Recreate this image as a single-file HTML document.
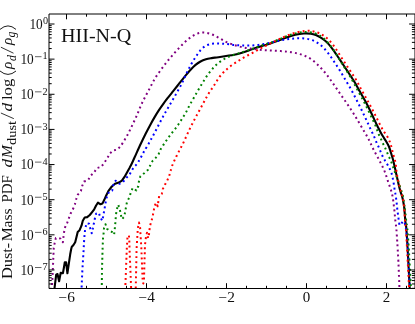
<!DOCTYPE html>
<html><head><meta charset="utf-8"><title>plot</title>
<style>html,body{margin:0;padding:0;background:#fff;}body{width:415px;height:324px;overflow:hidden;position:relative;font-family:"Liberation Serif",serif;}</style>
</head><body>
<svg width="415" height="324" viewBox="0 0 415 324" style="position:absolute;left:0;top:0;will-change:transform">
<defs><clipPath id="c"><rect x="49.00" y="14.00" width="367.00" height="274.50"/></clipPath></defs>
<rect width="415" height="324" fill="#fff"/>
<g clip-path="url(#c)" fill="none" stroke-linejoin="round">
<path d="M54.30 290.00L56.20 274.60L57.50 274.00L59.10 281.20L60.70 272.70L62.90 273.30L63.80 268.30L64.80 262.20L66.10 262.20L67.40 273.30L68.90 263.20L70.20 254.30L71.20 249.00L71.80 246.80L73.30 245.30L75.20 242.20L76.50 237.10L77.70 232.00L79.60 230.20L81.50 225.70L82.80 220.70L84.70 217.50L87.20 217.10L89.80 215.00L92.30 211.80L94.20 209.30L96.10 205.50L98.00 202.60L100.50 204.30L102.40 203.60L104.30 199.80L106.20 195.40L108.70 190.60L111.80 186.50L115.00 183.80L118.80 182.60L121.90 180.70L124.50 176.90L127.00 172.40L129.50 168.00C129.87 167.28 130.55 166.15 131.70 163.70C132.85 161.25 134.85 156.73 136.40 153.32C137.95 149.92 139.51 146.50 141.03 143.28C142.54 140.05 144.01 136.98 145.50 134.00C146.99 131.02 148.48 128.17 149.97 125.40C151.47 122.63 152.98 119.91 154.48 117.38C155.97 114.84 157.42 112.47 158.93 110.17C160.43 107.88 161.95 105.74 163.50 103.60C165.05 101.46 166.65 99.39 168.22 97.35C169.80 95.31 171.44 93.30 172.98 91.38C174.51 89.45 176.00 87.60 177.45 85.78C178.90 83.95 180.21 82.23 181.65 80.42C183.09 78.62 184.57 76.75 186.10 74.92C187.63 73.10 189.25 71.17 190.83 69.50C192.40 67.83 193.96 66.22 195.57 64.88C197.19 63.53 198.80 62.39 200.53 61.46C202.25 60.53 204.08 59.84 205.93 59.28C207.77 58.73 209.79 58.43 211.57 58.12C213.36 57.81 214.96 57.67 216.62 57.44C218.29 57.20 219.73 56.96 221.55 56.69C223.37 56.41 225.45 56.11 227.55 55.77C229.65 55.44 231.87 55.13 234.15 54.66C236.42 54.18 238.77 53.62 241.20 52.93C243.63 52.23 246.21 51.36 248.72 50.51C251.24 49.66 253.82 48.66 256.27 47.83C258.73 47.00 261.13 46.25 263.48 45.53C265.82 44.81 267.94 44.30 270.35 43.52C272.76 42.74 275.24 41.83 277.93 40.84C280.61 39.84 283.58 38.55 286.48 37.54C289.38 36.52 292.43 35.44 295.32 34.76C298.22 34.07 301.29 33.61 303.88 33.43C306.46 33.25 308.85 33.40 310.85 33.67C312.85 33.94 314.26 34.42 315.85 35.04C317.44 35.65 318.88 36.46 320.38 37.38C321.88 38.29 323.44 39.36 324.85 40.52C326.26 41.69 327.53 42.93 328.83 44.35C330.12 45.77 331.34 47.36 332.60 49.05C333.86 50.74 335.12 52.63 336.38 54.48C337.63 56.32 338.87 58.24 340.12 60.12C341.38 62.01 342.64 63.89 343.90 65.78C345.16 67.66 346.42 69.53 347.67 71.43C348.93 73.33 350.26 75.36 351.43 77.17C352.59 78.99 353.73 80.76 354.67 82.32C355.62 83.89 356.28 85.09 357.10 86.55C357.92 88.01 358.66 89.45 359.57 91.07C360.49 92.70 361.56 94.49 362.57 96.27C363.59 98.06 364.67 99.93 365.68 101.80C366.68 103.67 367.68 105.60 368.62 107.50C369.57 109.40 370.46 111.26 371.38 113.20C372.29 115.14 373.17 117.08 374.12 119.12C375.08 121.17 376.20 123.67 377.10 125.50C378.00 127.33 378.58 128.38 379.50 130.10C380.42 131.82 381.55 134.02 382.60 135.80C383.65 137.58 384.75 139.02 385.80 140.80C386.85 142.58 388.07 144.60 388.90 146.50C389.73 148.40 390.17 150.20 390.80 152.20C391.43 154.20 392.17 156.58 392.70 158.50C393.23 160.42 393.57 161.88 394.00 163.70C394.43 165.52 394.88 167.50 395.30 169.40C395.72 171.30 396.08 173.20 396.50 175.10C396.92 177.00 397.37 178.90 397.80 180.80C398.23 182.70 398.62 184.60 399.10 186.50C399.58 188.40 400.13 190.30 400.70 192.20C401.27 194.10 401.93 195.52 402.50 197.90C403.07 200.28 403.72 203.80 404.10 206.50C404.48 209.20 404.58 211.58 404.80 214.10C405.02 216.62 405.15 219.28 405.40 221.60C405.65 223.92 405.99 224.60 406.30 228.00C406.61 231.40 406.92 236.45 407.25 242.00C407.58 247.55 407.88 253.30 408.30 261.30C408.73 269.30 409.55 285.22 409.80 290.00" stroke="#000" stroke-width="2.10"/>
<path d="M51.80 290.00L52.40 278.40L53.10 263.20L53.70 248.30L54.60 243.40L55.80 238.10L58.80 238.10L60.70 238.60L62.90 242.20L63.40 237.40L64.10 232.00L65.10 227.20L67.20 222.90L68.90 218.10L70.50 213.70L73.00 209.10L74.90 204.30L76.20 199.20L77.70 194.80L80.90 191.00L82.20 185.90L84.10 181.50L88.10 180.20L90.60 175.80L94.20 172.40L96.80 168.10L101.40 166.80L104.20 162.80L107.10 158.70L109.50 153.90L112.80 150.60L117.50 149.50L120.90 145.80C121.35 145.10 122.73 143.02 123.60 141.60C124.47 140.18 125.27 138.75 126.10 137.30C126.93 135.85 127.79 134.40 128.57 132.90C129.36 131.40 130.06 129.85 130.80 128.30C131.54 126.75 132.28 125.17 133.03 123.60C133.77 122.03 134.56 120.43 135.28 118.88C135.99 117.32 136.65 115.79 137.30 114.28C137.95 112.76 138.52 111.31 139.15 109.78C139.78 108.24 140.40 106.64 141.10 105.08C141.80 103.51 142.57 101.91 143.33 100.40C144.08 98.89 144.85 97.46 145.62 96.00C146.40 94.54 147.17 93.12 147.95 91.65C148.73 90.18 149.52 88.68 150.30 87.18C151.08 85.67 151.82 84.12 152.62 82.62C153.43 81.13 154.25 79.65 155.15 78.20C156.05 76.75 157.02 75.35 158.00 73.92C158.98 72.50 160.04 71.07 161.05 69.67C162.06 68.28 163.06 66.90 164.05 65.58C165.04 64.25 165.98 62.99 167.00 61.73C168.02 60.46 169.08 59.23 170.15 57.97C171.22 56.72 172.35 55.46 173.45 54.20C174.55 52.94 175.63 51.66 176.75 50.42C177.87 49.19 178.98 47.97 180.15 46.78C181.32 45.58 182.53 44.40 183.75 43.25C184.97 42.10 186.20 40.93 187.48 39.85C188.75 38.77 190.01 37.68 191.38 36.75C192.74 35.82 194.19 34.91 195.68 34.25C197.16 33.59 198.73 33.06 200.30 32.80C201.87 32.54 203.48 32.51 205.10 32.67C206.72 32.83 208.38 33.26 210.00 33.76C211.62 34.27 213.22 34.97 214.80 35.70C216.38 36.43 217.93 37.29 219.50 38.14C221.07 38.99 222.65 39.98 224.22 40.81C225.80 41.64 227.36 42.44 228.98 43.13C230.59 43.81 232.20 44.36 233.93 44.93C235.65 45.49 237.48 46.06 239.32 46.53C241.17 47.00 243.09 47.40 244.97 47.73C246.86 48.07 248.74 48.29 250.62 48.55C252.51 48.82 254.39 49.09 256.27 49.32C258.16 49.54 260.07 49.76 261.92 49.92C263.78 50.09 265.63 50.19 267.40 50.31C269.17 50.43 270.85 50.53 272.55 50.63C274.25 50.73 275.91 50.82 277.60 50.91C279.29 51.01 280.99 51.08 282.68 51.21C284.36 51.35 286.04 51.51 287.72 51.73C289.41 51.94 291.10 52.18 292.77 52.48C294.45 52.77 296.13 53.10 297.78 53.52C299.42 53.95 301.05 54.43 302.62 55.00C304.20 55.57 305.74 56.19 307.20 56.92C308.66 57.66 310.05 58.46 311.40 59.40C312.75 60.34 314.01 61.44 315.27 62.55C316.54 63.66 317.76 64.88 318.98 66.08C320.19 67.27 321.40 68.47 322.55 69.72C323.70 70.98 324.80 72.30 325.85 73.60C326.90 74.90 327.85 76.21 328.82 77.53C329.80 78.84 330.72 80.13 331.68 81.47C332.63 82.82 333.58 84.20 334.55 85.60C335.52 87.00 336.50 88.43 337.48 89.85C338.45 91.27 339.43 92.72 340.40 94.12C341.37 95.53 342.32 96.89 343.27 98.25C344.22 99.61 345.16 100.93 346.10 102.30C347.04 103.67 347.98 105.07 348.93 106.47C349.87 107.88 350.84 109.31 351.77 110.75C352.71 112.19 353.63 113.65 354.52 115.10C355.42 116.55 356.19 117.82 357.15 119.43C358.11 121.03 359.15 122.79 360.30 124.75C361.45 126.71 362.90 129.21 364.05 131.20C365.20 133.19 366.31 135.02 367.23 136.68C368.14 138.33 368.81 139.65 369.55 141.15C370.29 142.65 370.93 144.16 371.65 145.68C372.37 147.19 373.10 148.72 373.88 150.23C374.65 151.73 375.48 153.19 376.30 154.70C377.12 156.21 378.02 157.80 378.80 159.30C379.58 160.80 380.25 162.23 381.00 163.70C381.75 165.17 382.60 166.57 383.30 168.10C384.00 169.63 384.62 171.32 385.20 172.90C385.78 174.48 386.28 176.03 386.80 177.60C387.32 179.17 387.77 180.72 388.30 182.30C388.83 183.88 389.47 185.50 390.00 187.10C390.53 188.70 391.05 190.25 391.50 191.90C391.95 193.55 392.38 195.32 392.70 197.00C393.02 198.68 393.18 200.32 393.40 202.00C393.62 203.68 393.80 205.40 394.00 207.10C394.20 208.80 394.43 210.55 394.60 212.20C394.77 213.85 394.85 215.37 395.00 217.00C395.15 218.63 395.30 220.32 395.50 222.00C395.70 223.68 396.02 225.43 396.20 227.10C396.38 228.77 396.43 229.52 396.60 232.00C396.78 234.48 396.95 237.02 397.25 242.00C397.55 246.98 398.02 253.90 398.40 261.90C398.77 269.90 399.32 285.32 399.50 290.00" stroke="#800080" stroke-width="2.00" stroke-dasharray="1.9 3.15"/>
<path d="M81.50 290.00L82.20 273.30L83.70 248.50L83.90 243.40L84.30 238.40L84.70 233.30L85.30 228.30L86.60 223.20L89.10 223.80L90.40 228.90L91.70 233.30L92.90 228.30L93.80 223.80L94.80 218.80L96.10 213.70L98.80 212.80L100.40 217.50L102.30 220.70L103.30 215.80L104.20 210.50L105.10 205.60L105.90 200.90L107.10 195.80L109.30 191.40L112.20 190.50L113.10 185.70L115.60 180.70L119.40 183.80L122.80 182.20L126.10 178.10L129.50 174.60L132.10 169.90L134.50 166.50L137.30 163.70L139.80 159.30L142.40 154.60L144.80 149.90C145.28 149.15 146.82 146.87 147.70 145.40C148.58 143.93 149.29 142.51 150.07 141.07C150.86 139.64 151.64 138.21 152.43 136.78C153.21 135.34 154.00 133.91 154.78 132.45C155.55 130.99 156.31 129.49 157.07 128.00C157.84 126.51 158.60 125.01 159.38 123.53C160.15 122.04 160.94 120.54 161.73 119.08C162.51 117.61 163.27 116.17 164.07 114.72C164.88 113.28 165.71 111.87 166.55 110.42C167.39 108.98 168.27 107.51 169.12 106.05C169.98 104.59 170.83 103.14 171.68 101.67C172.53 100.21 173.38 98.75 174.23 97.28C175.07 95.80 175.89 94.32 176.73 92.85C177.56 91.38 178.41 89.95 179.22 88.47C180.04 87.00 180.87 85.50 181.62 83.97C182.38 82.45 183.05 80.88 183.75 79.35C184.45 77.82 185.10 76.32 185.82 74.80C186.55 73.28 187.29 71.75 188.07 70.20C188.86 68.65 189.68 67.05 190.53 65.50C191.37 63.95 192.27 62.39 193.15 60.92C194.03 59.46 194.94 58.07 195.82 56.73C196.71 55.38 197.54 54.13 198.48 52.88C199.41 51.62 200.31 50.33 201.45 49.20C202.59 48.07 203.89 46.92 205.33 46.08C206.76 45.23 208.41 44.58 210.05 44.15C211.69 43.72 213.44 43.58 215.15 43.47C216.86 43.37 218.62 43.46 220.30 43.53C221.98 43.59 223.56 43.72 225.20 43.88C226.84 44.03 228.44 44.27 230.12 44.47C231.81 44.68 233.61 44.93 235.30 45.08C236.99 45.23 238.62 45.30 240.28 45.37C241.93 45.45 243.50 45.48 245.22 45.50C246.95 45.52 248.82 45.55 250.62 45.49C252.43 45.43 254.32 45.31 256.05 45.15C257.78 44.98 259.35 44.75 261.00 44.50C262.65 44.25 264.18 44.00 265.93 43.66C267.67 43.32 269.48 42.91 271.48 42.46C273.48 42.01 275.74 41.42 277.93 40.96C280.11 40.50 282.52 40.05 284.57 39.71C286.63 39.36 288.48 39.11 290.27 38.89C292.07 38.68 293.64 38.50 295.33 38.41C297.01 38.31 298.70 38.26 300.38 38.29C302.05 38.33 303.74 38.42 305.38 38.62C307.01 38.82 308.62 39.07 310.18 39.50C311.73 39.93 313.23 40.47 314.68 41.17C316.12 41.88 317.55 42.79 318.88 43.75C320.20 44.71 321.46 45.80 322.65 46.92C323.84 48.05 324.92 49.24 326.00 50.50C327.08 51.76 328.13 53.11 329.15 54.48C330.17 55.84 331.15 57.26 332.12 58.67C333.10 60.09 334.03 61.55 334.98 62.97C335.92 64.40 336.88 65.83 337.80 67.25C338.72 68.67 339.61 70.06 340.48 71.48C341.34 72.89 342.15 74.31 342.98 75.72C343.80 77.14 344.60 78.53 345.45 79.95C346.30 81.38 347.20 82.80 348.08 84.28C348.95 85.75 349.88 87.26 350.73 88.78C351.57 90.29 352.37 91.82 353.17 93.35C353.97 94.88 354.75 96.43 355.53 97.95C356.30 99.47 357.07 100.98 357.83 102.47C358.58 103.97 359.33 105.41 360.07 106.90C360.82 108.39 361.57 109.89 362.30 111.40C363.03 112.91 363.75 114.45 364.48 115.97C365.20 117.50 365.91 119.01 366.62 120.55C367.34 122.09 368.04 123.67 368.75 125.20C369.46 126.73 370.17 128.25 370.88 129.75C371.58 131.25 372.31 132.68 373.00 134.18C373.69 135.67 374.35 137.19 375.00 138.72C375.65 140.26 376.22 141.85 376.90 143.40C377.58 144.95 378.42 146.47 379.10 148.00C379.78 149.53 380.30 151.00 381.00 152.60C381.70 154.20 382.50 156.05 383.30 157.60C384.10 159.15 384.97 160.50 385.80 161.90C386.63 163.30 387.50 164.53 388.30 166.00C389.10 167.47 389.97 169.18 390.60 170.70C391.23 172.22 391.68 173.52 392.10 175.10C392.52 176.68 392.78 178.52 393.10 180.20C393.42 181.88 393.73 183.50 394.00 185.20C394.27 186.90 394.42 188.72 394.70 190.40C394.98 192.08 395.43 193.68 395.70 195.30C395.97 196.92 396.10 198.45 396.30 200.10C396.50 201.75 396.72 203.50 396.90 205.20C397.08 206.90 397.20 208.62 397.40 210.30C397.60 211.98 397.87 213.62 398.10 215.30C398.33 216.98 398.53 218.75 398.80 220.40C399.07 222.05 399.23 224.73 399.70 225.20C400.17 225.67 400.92 223.83 401.60 223.20C402.28 222.57 403.15 220.92 403.80 221.40C404.45 221.88 405.10 224.58 405.50 226.10C405.90 227.62 405.86 227.85 406.20 230.50C406.54 233.15 407.15 236.87 407.55 242.00C407.95 247.13 408.18 253.30 408.60 261.30C409.03 269.30 409.85 285.22 410.10 290.00" stroke="#0000ff" stroke-width="2.00" stroke-dasharray="1.9 3.15" stroke-dashoffset="2.5"/>
<path d="M101.75 290.00L102.00 270.00L102.60 248.30L103.00 238.40L103.60 233.30L104.00 228.00L105.50 224.20L107.10 228.90L110.20 231.00L113.10 232.70L114.10 234.60L114.70 229.50L115.20 224.50L115.60 219.40L116.00 214.30L116.90 209.30L118.20 204.70L119.80 209.30L120.70 214.10L121.90 219.10L124.10 216.90L125.10 212.20L126.10 206.60L127.00 201.90L129.20 197.70L130.80 192.70L132.70 188.00L136.40 190.50L138.30 186.00L139.00 181.00L140.40 176.20L144.20 173.20L147.80 170.00L150.20 165.60L152.60 160.90L155.60 158.00L158.60 154.20L160.50 149.50C160.93 148.82 162.20 146.80 163.10 145.40C164.00 144.00 164.97 142.53 165.93 141.12C166.88 139.72 167.84 138.32 168.82 136.97C169.81 135.62 170.82 134.33 171.85 133.02C172.88 131.72 173.97 130.45 175.00 129.12C176.03 127.80 177.05 126.45 178.00 125.07C178.95 123.70 179.80 122.29 180.70 120.88C181.60 119.46 182.54 118.03 183.43 116.60C184.31 115.17 185.20 113.73 186.00 112.28C186.80 110.83 187.45 109.36 188.20 107.90C188.95 106.44 189.71 104.98 190.53 103.52C191.34 102.07 192.23 100.61 193.08 99.15C193.92 97.69 194.74 96.23 195.57 94.75C196.41 93.27 197.24 91.77 198.10 90.28C198.96 88.78 199.87 87.24 200.75 85.78C201.63 84.31 202.50 82.91 203.38 81.51C204.25 80.11 205.05 78.76 205.98 77.37C206.90 75.97 207.90 74.52 208.95 73.14C210.00 71.76 211.13 70.38 212.25 69.09C213.37 67.80 214.42 66.60 215.65 65.43C216.88 64.26 218.20 63.12 219.62 62.05C221.05 60.98 222.67 59.91 224.22 59.00C225.78 58.09 227.28 57.31 228.98 56.59C230.67 55.86 232.36 55.30 234.40 54.63C236.44 53.97 238.81 53.34 241.20 52.60C243.59 51.85 246.21 51.03 248.72 50.16C251.24 49.29 253.82 48.25 256.27 47.38C258.73 46.50 261.13 45.68 263.48 44.92C265.82 44.17 267.94 43.67 270.35 42.83C272.76 41.99 275.18 41.00 277.93 39.89C280.67 38.78 283.69 37.28 286.80 36.15C289.91 35.01 293.31 33.79 296.60 33.11C299.89 32.42 303.46 31.98 306.55 32.02C309.64 32.06 312.68 32.62 315.12 33.37C317.57 34.11 319.45 35.33 321.20 36.47C322.95 37.62 324.24 38.92 325.60 40.23C326.96 41.53 328.15 42.83 329.38 44.30C330.60 45.77 331.75 47.35 332.92 49.05C334.10 50.75 335.27 52.63 336.43 54.48C337.58 56.32 338.71 58.24 339.88 60.12C341.04 62.01 342.23 63.89 343.42 65.78C344.62 67.66 345.84 69.53 347.02 71.43C348.21 73.33 349.41 75.28 350.52 77.17C351.64 79.07 352.73 81.03 353.70 82.80C354.67 84.57 355.50 86.21 356.35 87.80C357.20 89.39 357.98 90.82 358.80 92.33C359.62 93.83 360.48 95.31 361.30 96.82C362.12 98.34 362.95 99.88 363.75 101.40C364.55 102.92 365.32 104.44 366.07 105.95C366.83 107.46 367.55 108.96 368.27 110.47C369.00 111.99 369.71 113.52 370.45 115.03C371.19 116.53 371.96 117.99 372.70 119.53C373.44 121.06 374.20 122.58 374.90 124.22C375.60 125.87 376.32 127.84 376.90 129.40C377.48 130.96 377.80 132.18 378.40 133.60C379.00 135.02 379.80 136.38 380.50 137.90C381.20 139.42 381.88 141.15 382.60 142.70C383.32 144.25 384.10 145.68 384.80 147.20C385.50 148.72 386.12 150.23 386.80 151.80C387.48 153.37 388.18 154.98 388.90 156.60C389.62 158.22 390.47 159.97 391.10 161.50C391.73 163.03 392.15 164.27 392.70 165.80C393.25 167.33 393.82 169.08 394.40 170.70C394.98 172.32 395.63 173.95 396.20 175.50C396.77 177.05 397.28 178.48 397.80 180.00C398.32 181.52 398.77 183.00 399.30 184.60C399.83 186.20 400.45 187.92 401.00 189.60C401.55 191.28 402.18 193.13 402.60 194.70C403.02 196.27 403.17 197.03 403.50 199.00C403.83 200.97 404.42 205.25 404.60 206.50" stroke="#008000" stroke-width="2.00" stroke-dasharray="1.9 3.15"/>
<path d="M404.60 206.50C404.75 207.77 405.22 211.58 405.50 214.10C405.78 216.62 406.00 219.28 406.30 221.60C406.60 223.92 406.95 224.60 407.30 228.00C407.65 231.40 408.03 236.45 408.40 242.00C408.77 247.55 409.07 253.30 409.50 261.30C409.93 269.30 410.75 285.22 411.00 290.00" stroke="#008000" stroke-width="2.00" stroke-dasharray="1.9 3.15" stroke-dashoffset="3.0"/>
<path d="M125.20 290.00L126.80 248.60L127.40 238.40L128.90 235.20L129.30 240.90L129.60 250.50L131.20 290.00L135.70 290.00L136.60 248.60L137.80 228.30L139.00 222.60L140.10 227.60L141.30 247.20L142.70 282.00L143.30 283.50L143.90 281.50L144.80 251.80L144.90 246.60L145.30 241.90L146.00 236.90L147.00 232.70L148.10 238.10L148.90 235.20L149.40 230.50L150.10 225.50L151.60 220.70L152.70 216.10L153.70 211.00L154.60 205.90L156.20 202.80L157.70 206.30L158.40 200.90L159.20 195.80L161.80 193.90L162.80 189.10L164.90 184.80L167.30 180.40L169.20 175.90L170.70 170.60C170.93 169.82 171.53 167.46 172.10 165.90C172.67 164.34 173.42 162.78 174.10 161.25C174.78 159.72 175.50 158.22 176.20 156.75C176.90 155.28 177.60 153.85 178.33 152.43C179.05 151.00 179.82 149.61 180.57 148.17C181.33 146.74 182.11 145.29 182.85 143.80C183.59 142.31 184.30 140.74 185.00 139.22C185.70 137.71 186.37 136.20 187.05 134.72C187.73 133.25 188.37 131.84 189.07 130.35C189.78 128.86 190.52 127.33 191.27 125.80C192.03 124.27 192.84 122.69 193.62 121.17C194.41 119.66 195.19 118.18 195.97 116.72C196.76 115.27 197.54 113.87 198.33 112.42C199.11 110.98 199.88 109.55 200.68 108.08C201.47 106.60 202.27 105.09 203.07 103.60C203.88 102.11 204.67 100.62 205.48 99.15C206.28 97.67 207.07 96.19 207.93 94.75C208.78 93.31 209.68 91.91 210.60 90.53C211.52 89.14 212.48 87.85 213.43 86.42C214.37 84.98 215.29 83.44 216.25 81.93C217.21 80.42 218.14 78.78 219.17 77.36C220.21 75.94 221.32 74.65 222.47 73.40C223.63 72.15 224.85 71.00 226.12 69.84C227.40 68.68 228.75 67.49 230.12 66.43C231.50 65.37 233.00 64.40 234.38 63.48C235.75 62.55 237.05 61.75 238.38 60.89C239.70 60.04 240.94 59.19 242.35 58.35C243.76 57.51 245.29 56.68 246.83 55.85C248.36 55.02 250.00 54.22 251.57 53.38C253.15 52.53 254.73 51.65 256.30 50.78C257.87 49.91 259.45 49.00 261.00 48.17C262.55 47.33 263.96 46.59 265.60 45.77C267.24 44.94 268.77 44.21 270.83 43.21C272.88 42.21 275.26 41.01 277.93 39.76C280.59 38.51 283.69 36.93 286.80 35.69C289.91 34.46 293.49 33.16 296.60 32.34C299.71 31.53 302.91 31.01 305.48 30.80C308.04 30.59 310.07 30.82 312.00 31.08C313.93 31.35 315.50 31.87 317.05 32.40C318.60 32.93 319.96 33.55 321.30 34.27C322.64 35.00 323.84 35.81 325.07 36.75C326.31 37.68 327.55 38.73 328.73 39.88C329.90 41.04 331.05 42.33 332.15 43.68C333.25 45.02 334.29 46.50 335.30 47.97C336.31 49.44 337.26 51.00 338.23 52.50C339.19 54.00 340.13 55.52 341.08 56.99C342.02 58.45 342.96 59.86 343.90 61.30C344.84 62.73 345.76 64.15 346.70 65.57C347.64 67.00 348.58 68.43 349.52 69.85C350.47 71.27 351.43 72.66 352.38 74.09C353.32 75.51 354.32 76.99 355.20 78.41C356.08 79.82 356.90 81.22 357.65 82.57C358.40 83.93 358.96 85.17 359.67 86.53C360.39 87.90 361.12 89.30 361.92 90.74C362.72 92.18 363.63 93.67 364.48 95.17C365.32 96.67 366.16 98.20 367.00 99.72C367.84 101.25 368.70 102.81 369.52 104.33C370.35 105.84 371.19 107.32 371.98 108.80C372.76 110.28 373.50 111.73 374.25 113.20C375.00 114.67 375.76 116.12 376.50 117.60C377.24 119.08 377.95 120.62 378.70 122.10C379.45 123.58 380.23 125.07 381.00 126.50C381.77 127.93 382.40 129.27 383.30 130.70C384.20 132.13 385.47 133.62 386.40 135.10C387.33 136.58 388.20 138.08 388.90 139.60C389.60 141.12 390.10 142.67 390.60 144.20C391.10 145.73 391.48 147.18 391.90 148.80C392.32 150.42 392.65 152.25 393.10 153.90C393.55 155.55 394.17 157.07 394.60 158.70C395.03 160.33 395.43 162.02 395.70 163.70C395.97 165.38 396.00 167.12 396.20 168.80C396.40 170.48 396.63 172.12 396.90 173.80C397.17 175.48 397.48 177.32 397.80 178.90C398.12 180.48 398.43 181.72 398.80 183.30C399.17 184.88 399.57 186.72 400.00 188.40C400.43 190.08 400.92 191.75 401.40 193.40C401.88 195.05 402.47 196.12 402.90 198.30C403.33 200.48 403.72 203.87 404.00 206.50C404.28 209.13 404.42 211.58 404.60 214.10C404.78 216.62 404.90 219.28 405.10 221.60C405.30 223.92 405.53 224.60 405.80 228.00C406.07 231.40 406.38 236.45 406.70 242.00C407.02 247.55 407.28 253.30 407.70 261.30C408.12 269.30 408.95 285.22 409.20 290.00" stroke="#ff0000" stroke-width="2.00" stroke-dasharray="1.9 3.15"/>
</g>
<path d="M66.50 288.50 v-5.30M66.50 14.00 v5.30M86.50 288.50 v-2.70M86.50 14.00 v2.70M106.50 288.50 v-2.70M106.50 14.00 v2.70M126.50 288.50 v-2.70M126.50 14.00 v2.70M146.50 288.50 v-5.30M146.50 14.00 v5.30M166.50 288.50 v-2.70M166.50 14.00 v2.70M186.50 288.50 v-2.70M186.50 14.00 v2.70M206.50 288.50 v-2.70M206.50 14.00 v2.70M226.50 288.50 v-5.30M226.50 14.00 v5.30M246.50 288.50 v-2.70M246.50 14.00 v2.70M266.50 288.50 v-2.70M266.50 14.00 v2.70M286.50 288.50 v-2.70M286.50 14.00 v2.70M306.50 288.50 v-5.30M306.50 14.00 v5.30M326.50 288.50 v-2.70M326.50 14.00 v2.70M346.50 288.50 v-2.70M346.50 14.00 v2.70M366.50 288.50 v-2.70M366.50 14.00 v2.70M386.50 288.50 v-5.30M386.50 14.00 v5.30M406.50 288.50 v-2.70M406.50 14.00 v2.70M49.00 288.35 h2.70M415.00 288.35 h-3.10M49.00 283.96 h2.70M415.00 283.96 h-3.10M49.00 280.56 h2.70M415.00 280.56 h-3.10M49.00 277.78 h2.70M415.00 277.78 h-3.10M49.00 275.42 h2.70M415.00 275.42 h-3.10M49.00 273.39 h2.70M415.00 273.39 h-3.10M49.00 271.59 h2.70M415.00 271.59 h-3.10M49.00 269.98 h5.50M415.00 269.98 h-5.90M49.00 259.40 h2.70M415.00 259.40 h-3.10M49.00 253.21 h2.70M415.00 253.21 h-3.10M49.00 248.82 h2.70M415.00 248.82 h-3.10M49.00 245.42 h2.70M415.00 245.42 h-3.10M49.00 242.64 h2.70M415.00 242.64 h-3.10M49.00 240.28 h2.70M415.00 240.28 h-3.10M49.00 238.25 h2.70M415.00 238.25 h-3.10M49.00 236.45 h2.70M415.00 236.45 h-3.10M49.00 234.84 h5.50M415.00 234.84 h-5.90M49.00 224.26 h2.70M415.00 224.26 h-3.10M49.00 218.07 h2.70M415.00 218.07 h-3.10M49.00 213.68 h2.70M415.00 213.68 h-3.10M49.00 210.28 h2.70M415.00 210.28 h-3.10M49.00 207.50 h2.70M415.00 207.50 h-3.10M49.00 205.14 h2.70M415.00 205.14 h-3.10M49.00 203.11 h2.70M415.00 203.11 h-3.10M49.00 201.31 h2.70M415.00 201.31 h-3.10M49.00 199.70 h5.50M415.00 199.70 h-5.90M49.00 189.12 h2.70M415.00 189.12 h-3.10M49.00 182.93 h2.70M415.00 182.93 h-3.10M49.00 178.54 h2.70M415.00 178.54 h-3.10M49.00 175.14 h2.70M415.00 175.14 h-3.10M49.00 172.36 h2.70M415.00 172.36 h-3.10M49.00 170.00 h2.70M415.00 170.00 h-3.10M49.00 167.97 h2.70M415.00 167.97 h-3.10M49.00 166.17 h2.70M415.00 166.17 h-3.10M49.00 164.56 h5.50M415.00 164.56 h-5.90M49.00 153.98 h2.70M415.00 153.98 h-3.10M49.00 147.79 h2.70M415.00 147.79 h-3.10M49.00 143.40 h2.70M415.00 143.40 h-3.10M49.00 140.00 h2.70M415.00 140.00 h-3.10M49.00 137.22 h2.70M415.00 137.22 h-3.10M49.00 134.86 h2.70M415.00 134.86 h-3.10M49.00 132.83 h2.70M415.00 132.83 h-3.10M49.00 131.03 h2.70M415.00 131.03 h-3.10M49.00 129.42 h5.50M415.00 129.42 h-5.90M49.00 118.84 h2.70M415.00 118.84 h-3.10M49.00 112.65 h2.70M415.00 112.65 h-3.10M49.00 108.26 h2.70M415.00 108.26 h-3.10M49.00 104.86 h2.70M415.00 104.86 h-3.10M49.00 102.08 h2.70M415.00 102.08 h-3.10M49.00 99.72 h2.70M415.00 99.72 h-3.10M49.00 97.69 h2.70M415.00 97.69 h-3.10M49.00 95.89 h2.70M415.00 95.89 h-3.10M49.00 94.28 h5.50M415.00 94.28 h-5.90M49.00 83.70 h2.70M415.00 83.70 h-3.10M49.00 77.51 h2.70M415.00 77.51 h-3.10M49.00 73.12 h2.70M415.00 73.12 h-3.10M49.00 69.72 h2.70M415.00 69.72 h-3.10M49.00 66.94 h2.70M415.00 66.94 h-3.10M49.00 64.58 h2.70M415.00 64.58 h-3.10M49.00 62.55 h2.70M415.00 62.55 h-3.10M49.00 60.75 h2.70M415.00 60.75 h-3.10M49.00 59.14 h5.50M415.00 59.14 h-5.90M49.00 48.56 h2.70M415.00 48.56 h-3.10M49.00 42.37 h2.70M415.00 42.37 h-3.10M49.00 37.98 h2.70M415.00 37.98 h-3.10M49.00 34.58 h2.70M415.00 34.58 h-3.10M49.00 31.80 h2.70M415.00 31.80 h-3.10M49.00 29.44 h2.70M415.00 29.44 h-3.10M49.00 27.41 h2.70M415.00 27.41 h-3.10M49.00 25.61 h2.70M415.00 25.61 h-3.10M49.00 24.00 h5.50M415.00 24.00 h-5.90" stroke="#000" stroke-width="1" fill="none"/>
<path d="M49.00 14.00V288.50H415.00V14.00Z" fill="none" stroke="#000" stroke-width="1"/>
<text x="58.60" y="301.60" font-size="14" textLength="16.40" lengthAdjust="spacingAndGlyphs" fill="#111" font-family="Liberation Serif, serif">−6</text>
<text x="138.60" y="301.60" font-size="14" textLength="16.40" lengthAdjust="spacingAndGlyphs" fill="#111" font-family="Liberation Serif, serif">−4</text>
<text x="218.60" y="301.60" font-size="14" textLength="16.40" lengthAdjust="spacingAndGlyphs" fill="#111" font-family="Liberation Serif, serif">−2</text>
<text x="302.80" y="301.60" font-size="14" textLength="7.50" lengthAdjust="spacingAndGlyphs" fill="#111" font-family="Liberation Serif, serif">0</text>
<text x="382.80" y="301.60" font-size="14" textLength="7.50" lengthAdjust="spacingAndGlyphs" fill="#111" font-family="Liberation Serif, serif">2</text>
<text x="29.40" y="28.85" font-size="13.7" textLength="13.30" lengthAdjust="spacingAndGlyphs" fill="#111" font-family="Liberation Serif, serif">10</text>
<text x="43.00" y="24.30" font-size="10.2" fill="#111" font-family="Liberation Serif, serif">0</text>
<text x="20.40" y="63.99" font-size="13.7" textLength="13.30" lengthAdjust="spacingAndGlyphs" fill="#111" font-family="Liberation Serif, serif">10</text>
<path d="M35.0 56.69h6.5" stroke="#111" stroke-width="0.65"/>
<text x="42.50" y="59.44" font-size="10.2" fill="#111" font-family="Liberation Serif, serif">1</text>
<text x="20.40" y="99.13" font-size="13.7" textLength="13.30" lengthAdjust="spacingAndGlyphs" fill="#111" font-family="Liberation Serif, serif">10</text>
<path d="M35.0 91.83h6.5" stroke="#111" stroke-width="0.65"/>
<text x="42.50" y="94.58" font-size="10.2" fill="#111" font-family="Liberation Serif, serif">2</text>
<text x="20.40" y="134.27" font-size="13.7" textLength="13.30" lengthAdjust="spacingAndGlyphs" fill="#111" font-family="Liberation Serif, serif">10</text>
<path d="M35.0 126.97h6.5" stroke="#111" stroke-width="0.65"/>
<text x="42.50" y="129.72" font-size="10.2" fill="#111" font-family="Liberation Serif, serif">3</text>
<text x="20.40" y="169.41" font-size="13.7" textLength="13.30" lengthAdjust="spacingAndGlyphs" fill="#111" font-family="Liberation Serif, serif">10</text>
<path d="M35.0 162.11h6.5" stroke="#111" stroke-width="0.65"/>
<text x="42.50" y="164.86" font-size="10.2" fill="#111" font-family="Liberation Serif, serif">4</text>
<text x="20.40" y="204.55" font-size="13.7" textLength="13.30" lengthAdjust="spacingAndGlyphs" fill="#111" font-family="Liberation Serif, serif">10</text>
<path d="M35.0 197.25h6.5" stroke="#111" stroke-width="0.65"/>
<text x="42.50" y="200.00" font-size="10.2" fill="#111" font-family="Liberation Serif, serif">5</text>
<text x="20.40" y="239.69" font-size="13.7" textLength="13.30" lengthAdjust="spacingAndGlyphs" fill="#111" font-family="Liberation Serif, serif">10</text>
<path d="M35.0 232.39h6.5" stroke="#111" stroke-width="0.65"/>
<text x="42.50" y="235.14" font-size="10.2" fill="#111" font-family="Liberation Serif, serif">6</text>
<text x="20.40" y="274.83" font-size="13.7" textLength="13.30" lengthAdjust="spacingAndGlyphs" fill="#111" font-family="Liberation Serif, serif">10</text>
<path d="M35.0 267.53h6.5" stroke="#111" stroke-width="0.65"/>
<text x="42.50" y="270.28" font-size="10.2" fill="#111" font-family="Liberation Serif, serif">7</text>
<text x="61.00" y="42.00" font-size="18.1" textLength="70.30" lengthAdjust="spacingAndGlyphs" fill="#111" font-family="Liberation Serif, serif">HII-N-Q</text>
<g transform="translate(11.90,279) rotate(-90)"><text x="0.00" y="0.00" font-size="15.3" textLength="36.30" lengthAdjust="spacingAndGlyphs" fill="#111" font-family="Liberation Serif, serif">Dust-</text><text x="37.70" y="0.00" font-size="15.3" textLength="33.00" lengthAdjust="spacingAndGlyphs" fill="#111" font-family="Liberation Serif, serif">Mass</text><text x="76.50" y="0.00" font-size="15.3" textLength="27.40" lengthAdjust="spacingAndGlyphs" fill="#111" font-family="Liberation Serif, serif">PDF</text><text x="111.50" y="0.00" font-size="15.3" textLength="8.60" lengthAdjust="spacingAndGlyphs" font-style="italic" fill="#111" font-family="Liberation Serif, serif">d</text><text x="121.00" y="0.00" font-size="15.3" textLength="12.90" lengthAdjust="spacingAndGlyphs" font-style="italic" fill="#111" font-family="Liberation Serif, serif">M</text><text x="134.10" y="3.70" font-size="11.8" textLength="24.00" lengthAdjust="spacingAndGlyphs" fill="#111" font-family="Liberation Serif, serif">dust</text><path d="M160.35 1.9L166.00 -11" stroke="#111" stroke-width="0.85" fill="none"/><text x="167.50" y="0.00" font-size="15.3" textLength="8.60" lengthAdjust="spacingAndGlyphs" font-style="italic" fill="#111" font-family="Liberation Serif, serif">d</text><text x="179.00" y="0.00" font-size="15.3" textLength="21.20" lengthAdjust="spacingAndGlyphs" fill="#111" font-family="Liberation Serif, serif">log</text><path d="M208.00 -11.9Q201.20 -3.9 208.00 4.1" stroke="#111" stroke-width="0.95" fill="none"/><text x="210.00" y="0.00" font-size="15.3" font-style="italic" fill="#111" font-family="Liberation Serif, serif">ρ</text><text x="218.00" y="3.70" font-size="11.8" font-style="italic" fill="#111" font-family="Liberation Serif, serif">d</text><path d="M225.80 1.6L231.80 -11" stroke="#111" stroke-width="0.85" fill="none"/><text x="234.00" y="0.00" font-size="15.3" font-style="italic" fill="#111" font-family="Liberation Serif, serif">ρ</text><text x="241.40" y="3.40" font-size="11.8" font-style="italic" fill="#111" font-family="Liberation Serif, serif">g</text><path d="M249.60 -11.9Q256.60 -3.9 249.60 4.1" stroke="#111" stroke-width="0.95" fill="none"/></g>
</svg>
</body></html>
